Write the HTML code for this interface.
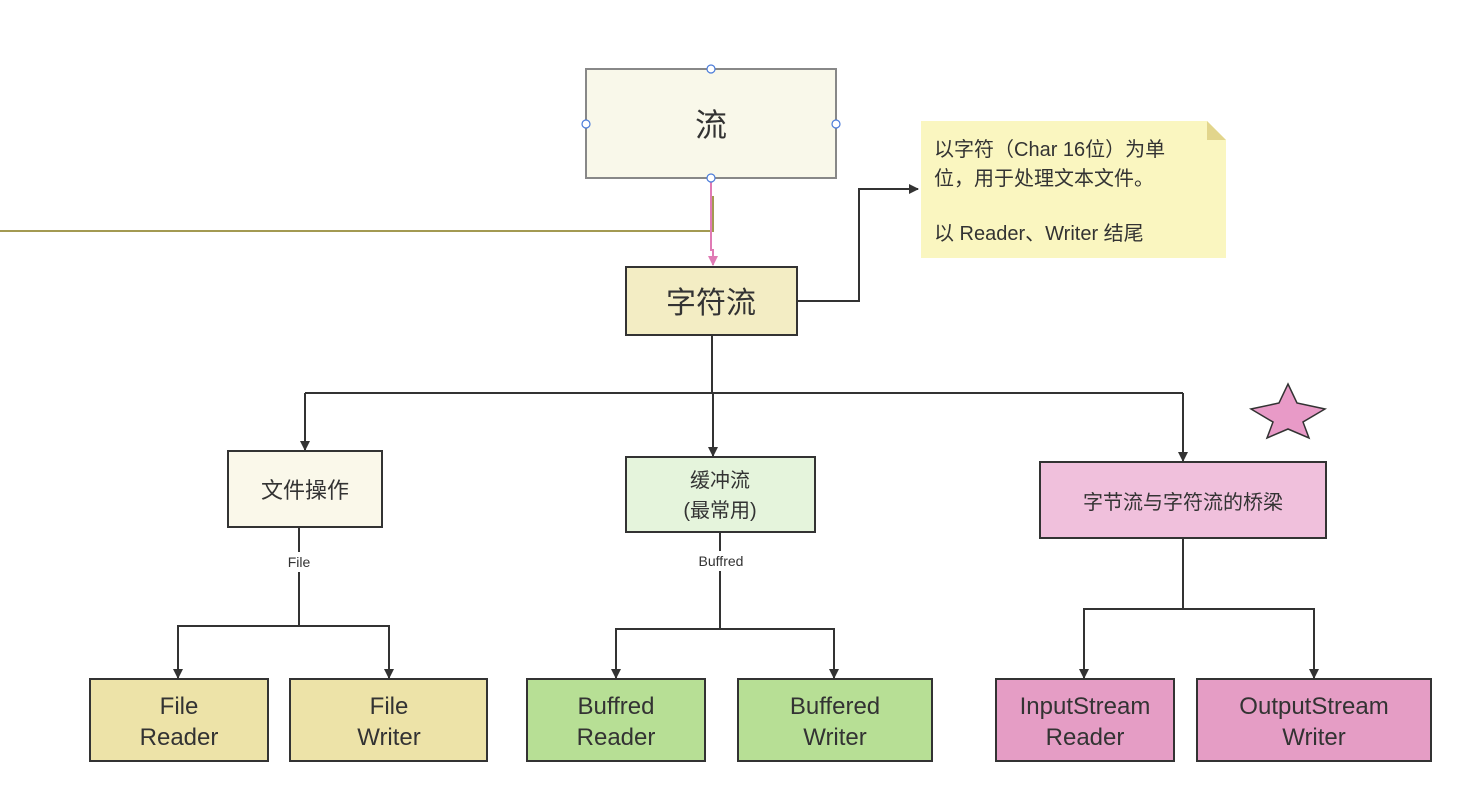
<!DOCTYPE html>
<html><head><meta charset="utf-8"><style>
html,body{margin:0;padding:0;background:#fff;}
svg{display:block;font-family:"Liberation Sans","Noto Sans CJK SC",sans-serif;}
</style></head><body>
<svg width="1481" height="797" viewBox="0 0 1481 797" xmlns="http://www.w3.org/2000/svg">
<defs>
<marker id="a" markerWidth="10" markerHeight="10" refX="9" refY="5" orient="auto" markerUnits="userSpaceOnUse"><path d="M0,0 L10,5 L0,10 z" fill="#333"/></marker>
<marker id="p" markerWidth="10" markerHeight="10" refX="9" refY="5" orient="auto" markerUnits="userSpaceOnUse"><path d="M0,0 L10,5 L0,10 z" fill="#e07bb5"/></marker>
</defs>
<g fill="none" stroke-width="2">
<path d="M0,231 H713 V196" stroke="#a39a52"/>
<path d="M711,178 V250 H713 V265" stroke="#e07bb5" marker-end="url(#p)"/>
<g stroke="#333">
<path d="M797,301 H859 V189 H918" marker-end="url(#a)"/>
<path d="M712,335 V393"/>
<path d="M305,393 H1183"/>
<path d="M305,393 V450" marker-end="url(#a)"/>
<path d="M713,393 V456" marker-end="url(#a)"/>
<path d="M1183,393 V461" marker-end="url(#a)"/>
<path d="M299,527 V552 M299,572 V626 H178 V678" marker-end="url(#a)"/>
<path d="M299,626 H389 V678" marker-end="url(#a)"/>
<path d="M720,532 V551 M720,571 V629 H616 V678" marker-end="url(#a)"/>
<path d="M720,629 H834 V678" marker-end="url(#a)"/>
<path d="M1183,538 V609 H1084 V678" marker-end="url(#a)"/>
<path d="M1183,609 H1314 V678" marker-end="url(#a)"/>
</g>
</g>
<rect x="586" y="69" width="250" height="109" fill="#f9f8ea" stroke="#888" stroke-width="2"/>
<g fill="#fff" stroke="#4a7bd9" stroke-width="1.2"><circle cx="711" cy="69" r="4"/><circle cx="711" cy="178" r="4"/><circle cx="586" cy="124" r="4"/><circle cx="836" cy="124" r="4"/></g>
<rect x="626" y="267" width="171" height="68" fill="#f3edc4" stroke="#333" stroke-width="2"/>
<path d="M921,121 H1207 L1226,140 V258 H921 Z" fill="#faf6c0"/>
<path d="M1207,121 L1226,140 H1207 Z" fill="#e2d58c"/>
<g stroke="#333" stroke-width="2">
<rect x="228" y="451" width="154" height="76" fill="#faf8ea"/>
<rect x="626" y="457" width="189" height="75" fill="#e5f4dc"/>
<rect x="1040" y="462" width="286" height="76" fill="#f0c0dc"/>
<rect x="90" y="679" width="178" height="82" fill="#ede3a8"/>
<rect x="290" y="679" width="197" height="82" fill="#ede3a8"/>
<rect x="527" y="679" width="178" height="82" fill="#b7df95"/>
<rect x="738" y="679" width="194" height="82" fill="#b7df95"/>
<rect x="996" y="679" width="178" height="82" fill="#e59dc5"/>
<rect x="1197" y="679" width="234" height="82" fill="#e59dc5"/>
</g>
<polygon points="1288,384 1297,403 1325,409 1303,422 1309,438 1288,429 1267,438 1273,422 1251,409 1279,403" fill="#e89ac7" stroke="#333" stroke-width="1.5"/>
<g fill="#333" text-anchor="middle">
<text x="711" y="136" font-size="32">流</text>
<text x="711" y="313" font-size="30">字符流</text>
<text x="305" y="498" font-size="22">文件操作</text>
<text x="720" y="487" font-size="20">缓冲流</text>
<text x="720" y="517" font-size="20">(最常用)</text>
<text x="1183" y="509" font-size="20">字节流与字符流的桥梁</text>
<text x="299" y="567" font-size="14">File</text>
<text x="721" y="566" font-size="14">Buffred</text>
<g font-size="24">
<text x="179" y="714">File</text><text x="179" y="745">Reader</text>
<text x="389" y="714">File</text><text x="389" y="745">Writer</text>
<text x="616" y="714">Buffred</text><text x="616" y="745">Reader</text>
<text x="835" y="714">Buffered</text><text x="835" y="745">Writer</text>
<text x="1085" y="714">InputStream</text><text x="1085" y="745">Reader</text>
<text x="1314" y="714">OutputStream</text><text x="1314" y="745">Writer</text>
</g>
</g>
<g fill="#333" font-size="20">
<text x="934" y="156">以字符（Char 16位）为单</text>
<text x="934" y="185">位，用于处理文本文件。</text>
<text x="934" y="240">以  Reader、Writer  结尾</text>
</g>
</svg>
</body></html>
